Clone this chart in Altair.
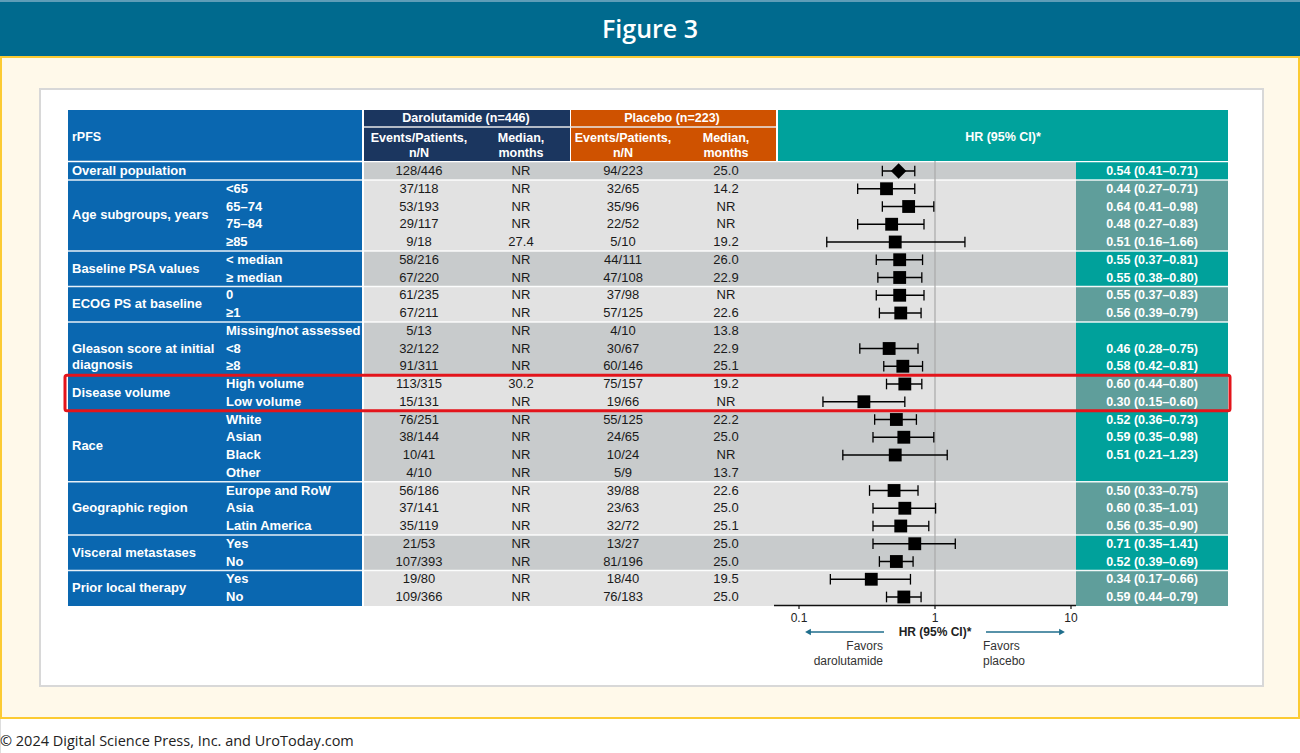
import altair as alt
import pandas as pd

# ---------------- data ----------------
groups = ["Overall population", "Age subgroups, years", "Baseline PSA values",
          "ECOG PS at baseline", "Gleason score at initial\ndiagnosis", "Disease volume",
          "Race", "Geographic region", "Visceral metastases", "Prior local therapy"]
group_sizes = [1, 4, 2, 2, 3, 2, 4, 3, 2, 2]

subgroups = ["", "<65", "65–74", "75–84", "≥85", "< median", "≥ median", "0", "≥1",
             "Missing/not assessed", "<8", "≥8", "High volume", "Low volume",
             "White", "Asian", "Black", "Other", "Europe and RoW", "Asia", "Latin America",
             "Yes", "No", "Yes", "No"]

daro_events = ["128/446", "37/118", "53/193", "29/117", "9/18", "58/216", "67/220",
               "61/235", "67/211", "5/13", "32/122", "91/311", "113/315", "15/131",
               "76/251", "38/144", "10/41", "4/10", "56/186", "37/141", "35/119",
               "21/53", "107/393", "19/80", "109/366"]
daro_median = ["NR", "NR", "NR", "NR", "27.4", "NR", "NR", "NR", "NR", "NR", "NR", "NR",
               "30.2", "NR", "NR", "NR", "NR", "NR", "NR", "NR", "NR", "NR", "NR", "NR", "NR"]
pbo_events = ["94/223", "32/65", "35/96", "22/52", "5/10", "44/111", "47/108", "37/98",
              "57/125", "4/10", "30/67", "60/146", "75/157", "19/66", "55/125", "24/65",
              "10/24", "5/9", "39/88", "23/63", "32/72", "13/27", "81/196", "18/40", "76/183"]
pbo_median = ["25.0", "14.2", "NR", "NR", "19.2", "26.0", "22.9", "NR", "22.6", "13.8",
              "22.9", "25.1", "19.2", "NR", "22.2", "25.0", "NR", "13.7", "22.6", "25.0",
              "25.1", "25.0", "25.0", "19.5", "25.0"]

hr = [0.54, 0.44, 0.64, 0.48, 0.51, 0.55, 0.55, 0.55, 0.56, None, 0.46, 0.58, 0.60, 0.30,
      0.52, 0.59, 0.51, None, 0.50, 0.60, 0.56, 0.71, 0.52, 0.34, 0.59]
hr_lo = [0.41, 0.27, 0.41, 0.27, 0.16, 0.37, 0.38, 0.37, 0.39, None, 0.28, 0.42, 0.44, 0.15,
         0.36, 0.35, 0.21, None, 0.33, 0.35, 0.35, 0.35, 0.39, 0.17, 0.44]
hr_hi = [0.71, 0.71, 0.98, 0.83, 1.66, 0.81, 0.80, 0.83, 0.79, None, 0.75, 0.81, 0.80, 0.60,
         0.73, 0.98, 1.23, None, 0.75, 1.01, 0.90, 1.41, 0.69, 0.66, 0.79]

axis_ticks = [0.1, 1, 10]
axis_tick_labels = ["0.1", "1", "10"]

# ---------------- tables ----------------
grp_of_row = []
g_rows = []
start = 0
for gi, (name, n) in enumerate(zip(groups, group_sizes)):
    g_rows.append({"group": name, "gi": gi, "y0": start - 0.5, "y1": start + n - 0.5,
                   "mid": start + (n - 1) / 2,
                   "band": "#C8CBCC" if gi % 2 == 0 else "#E2E2E2",
                   "hrband": "#00A19B" if gi % 2 == 0 else "#5F9E9B"})
    grp_of_row += [gi] * n
    start += n
gdf = pd.DataFrame(g_rows)


def hr_label(h, lo, hi):
    if h is None:
        return ""
    return f"{h:.2f} ({lo:.2f}–{hi:.2f})"


rows = pd.DataFrame({
    "row": range(len(subgroups)),
    "gi": grp_of_row,
    "sub": subgroups,
    "de": daro_events, "dm": daro_median,
    "pe": pbo_events, "pm": pbo_median,
    "hr": hr, "lo": hr_lo, "hi": hr_hi,
    "hrtxt": [hr_label(h, l, u) for h, l, u in zip(hr, hr_lo, hr_hi)],
})
rows["shape"] = ["diamond" if r == 0 else "square" for r in rows["row"]]
rows["size"] = [240 if r == 0 else 165 for r in rows["row"]]
est = rows.dropna(subset=["hr"])

ticks = pd.DataFrame({"v": axis_ticks, "lab": axis_tick_labels})

# ---------------- scales & helpers ----------------
Y = alt.Scale(domain=[0, 24], range=[171, 597], zero=False, nice=False)
X = alt.Scale(type="log", domain=[0.1, 10], range=[799, 1071], nice=False)
FONT = "Liberation Sans"
ONE = pd.DataFrame({"k": [0]})

# column centres of the count / median columns
COL_DE, COL_DM, COL_PE, COL_PM, COL_HR = 419, 521, 623, 726, 1152


def box(x0, x1, y0, y1, **mark):
    return alt.Chart(ONE).mark_rect(**mark).encode(
        x=alt.value(x0), x2=alt.value(x1), y=alt.value(y0), y2=alt.value(y1))


def hline(x0, x1, y, **mark):
    return alt.Chart(ONE).mark_rule(**mark).encode(
        x=alt.value(x0), x2=alt.value(x1), y=alt.value(y))


def label(text, x, y, **mark):
    opts = dict(font=FONT, baseline="middle")
    opts.update(mark)
    return alt.Chart(ONE).mark_text(**opts).encode(
        x=alt.value(x), y=alt.value(y), text=alt.value(text))


def col_text(field, x, **mark):
    opts = dict(font=FONT, fontSize=13, baseline="middle", align="center", color="#1A1A1A")
    opts.update(mark)
    return alt.Chart(rows).mark_text(**opts).encode(
        x=alt.value(x), y=alt.Y("row:Q", scale=Y, axis=None), text=f"{field}:N")


layers = []

# page frame
layers += [
    box(0, 1300, 0, 57, color="#006A8E"),
    hline(0, 1300, 1, color="#5E9DB8", strokeWidth=2),
    box(1, 1299, 57, 718, color="#FFF9EA", stroke="#FCCB33", strokeWidth=2),
    box(40, 1263, 89, 686, color="#FFFFFF", stroke="#D8D8D8", strokeWidth=2),
    label("Figure 3", 650, 30, font="Open Sans", fontSize=25, fontWeight=600,
          color="white", align="center"),
    label("© 2024 Digital Science Press, Inc. and UroToday.com", 0, 742,
          font="Open Sans", fontSize=14.5, color="#222222", align="left"),
]

# header blocks
layers += [
    box(68, 362, 110, 606, color="#0A67B0"),
    box(364, 570, 110, 161, color="#1B365F"),
    box(571, 776, 110, 161, color="#CF5200"),
    box(778, 1228, 110, 161, color="#00A29C"),
]

# group shading bands
layers += [
    alt.Chart(gdf).mark_rect().encode(
        x=alt.value(364), x2=alt.value(1076),
        y=alt.Y("y0:Q", scale=Y, axis=None), y2="y1:Q",
        color=alt.Color("band:N", scale=None)),
    alt.Chart(gdf).mark_rect().encode(
        x=alt.value(1076), x2=alt.value(1228),
        y=alt.Y("y0:Q", scale=Y, axis=None), y2="y1:Q",
        color=alt.Color("hrband:N", scale=None)),
    alt.Chart(gdf[gdf["gi"] > 0]).mark_rule(color="white", strokeWidth=1.5, opacity=0.9).encode(
        x=alt.value(68), x2=alt.value(1228), y=alt.Y("y0:Q", scale=Y, axis=None)),
    hline(68, 362, 161.5, color="white", strokeWidth=1.5),
    hline(364, 776, 127, color="#E8E8E8", strokeWidth=1.5),
]

# header text
hdr = dict(color="white", fontWeight="bold", fontSize=12.5, align="center")
layers += [
    label("rPFS", 72, 137, color="white", fontWeight="bold", fontSize=12.5, align="left"),
    label("Darolutamide (n=446)", 466, 118, **hdr),
    label("Placebo (n=223)", 672, 118, **hdr),
    label("Events/Patients,", COL_DE, 138, **hdr),
    label("n/N", COL_DE, 153, **hdr),
    label("Median,", COL_DM, 138, **hdr),
    label("months", COL_DM, 153, **hdr),
    label("Events/Patients,", COL_PE, 138, **hdr),
    label("n/N", COL_PE, 153, **hdr),
    label("Median,", COL_PM, 138, **hdr),
    label("months", COL_PM, 153, **hdr),
    label("HR (95% CI)*", 1003, 137, **hdr),
]

# row labels and table cells
layers += [
    alt.Chart(gdf).mark_text(font=FONT, fontSize=13, fontWeight="bold", color="white",
                             align="left", baseline="middle", lineBreak="\n",
                             lineHeight=16).encode(
        x=alt.value(72), y=alt.Y("mid:Q", scale=Y, axis=None), text="group:N"),
    col_text("sub", 226, align="left", color="white", fontWeight="bold"),
    col_text("de", COL_DE),
    col_text("dm", COL_DM),
    col_text("pe", COL_PE),
    col_text("pm", COL_PM),
    col_text("hrtxt", COL_HR, color="white", fontWeight="bold", fontSize=12.5),
]

# forest plot
layers += [
    alt.Chart(pd.DataFrame({"v": [1]})).mark_rule(color="#A9A9A9", strokeWidth=1.2).encode(
        x=alt.X("v:Q", scale=X, axis=None), y=alt.value(161), y2=alt.value(605)),
    alt.Chart(est).mark_rule(color="black", strokeWidth=1.3).encode(
        x=alt.X("lo:Q", scale=X, axis=None), x2="hi:Q",
        y=alt.Y("row:Q", scale=Y, axis=None)),
    alt.Chart(est).transform_fold(["lo", "hi"], as_=["end", "v"]).transform_calculate(
        ya="datum.row - 0.3", yb="datum.row + 0.3").mark_rule(
        color="black", strokeWidth=1.3).encode(
        x=alt.X("v:Q", scale=X, axis=None),
        y=alt.Y("ya:Q", scale=Y, axis=None), y2="yb:Q"),
    alt.Chart(est).mark_point(filled=True, opacity=1, color="black").encode(
        x=alt.X("hr:Q", scale=X, axis=None),
        y=alt.Y("row:Q", scale=Y, axis=None),
        shape=alt.Shape("shape:N", scale=None),
        size=alt.Size("size:Q", scale=None)),
]

# x axis of the forest plot
layers += [
    hline(774, 1076, 605.5, color="#111111", strokeWidth=1.4),
    alt.Chart(ticks).mark_rule(color="#111111", strokeWidth=1.2).encode(
        x=alt.X("v:Q", scale=X, axis=None), y=alt.value(605), y2=alt.value(609)),
    alt.Chart(ticks).mark_text(font=FONT, fontSize=12, color="#222222",
                               baseline="middle", align="center").encode(
        x=alt.X("v:Q", scale=X, axis=None), y=alt.value(618), text="lab:N"),
    label("HR (95% CI)*", 935, 632, fontSize=12, fontWeight="bold", color="#222222",
          align="center"),
    hline(810, 884, 632, color="#1F6E8C", strokeWidth=1.5),
    hline(986, 1060, 632, color="#1F6E8C", strokeWidth=1.5),
    alt.Chart(ONE).mark_point(shape="triangle-left", filled=True, opacity=1,
                              color="#1F6E8C", size=45).encode(
        x=alt.value(808), y=alt.value(632)),
    alt.Chart(ONE).mark_point(shape="triangle-right", filled=True, opacity=1,
                              color="#1F6E8C", size=45).encode(
        x=alt.value(1062), y=alt.value(632)),
    label("Favors\ndarolutamide", 883, 646, fontSize=12, color="#333333", align="right",
          lineBreak="\n", lineHeight=15),
    label("Favors\nplacebo", 983, 646, fontSize=12, color="#333333", align="left",
          lineBreak="\n", lineHeight=15),
]

# highlight around the disease-volume subgroup
layers += [
    alt.Chart(gdf[gdf["group"] == "Disease volume"]).mark_rect(
        filled=False, stroke="#E3141B", strokeWidth=3, cornerRadius=2).encode(
        x=alt.value(65), x2=alt.value(1230),
        y=alt.Y("y0:Q", scale=Y, axis=None), y2="y1:Q"),
]

chart = alt.layer(*layers).properties(
    width=1300, height=753, padding=0,
    autosize=alt.AutoSizeParams(type="none"),
).configure_view(stroke=None).configure(background="white")

chart.save("out.html", embed_options={"renderer": "svg", "actions": False})
